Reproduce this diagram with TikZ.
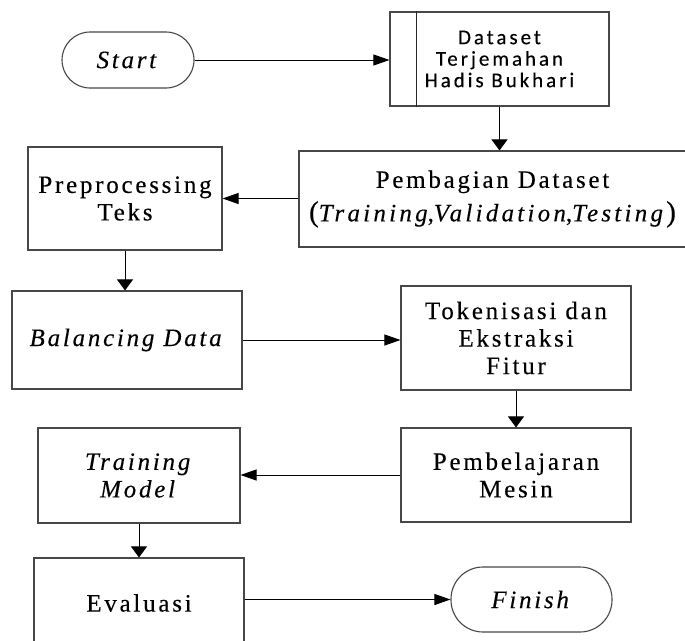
\documentclass[tikz,border=0pt]{standalone}
\usepackage{fontspec}
\setmainfont{Liberation Serif}[LetterSpace=11,FakeBold=0.25]
\newfontfamily\dsfont{Carlito}[LetterSpace=14,FakeBold=0.2]
\usetikzlibrary{arrows.meta}
\begin{document}
\begin{tikzpicture}[x=1pt,y=-1pt,
  box/.style={draw=black!72, line width=1.1pt, align=center, inner sep=0pt,
              font=\fontsize{25}{27.5}\selectfont},
  term/.style={box},
  conn/.style={draw=black, line width=0.9pt},
  harr/.style={conn, -{Triangle[length=16pt,width=11pt]}},
  varr/.style={conn, -{Triangle[length=11pt,width=16pt]}}]
\useasboundingbox (0,0) rectangle (685,640);
\clip (0,0) rectangle (685,640);

\node[term, rounded corners=28pt, minimum width=132pt, minimum height=56pt] (start) at (128,60) {\textit{Start}};
\node[box, minimum width=219pt, minimum height=94pt, font=\dsfont\fontsize{21}{21.5}\selectfont] (data) at (499.5,59) {Dataset\\Terjemahan\\Hadis Bukhari};
\draw[draw=black!85, line width=1pt] ([xshift=27pt]data.north west) -- ([xshift=27pt]data.south west);
\node[box, minimum width=387pt, minimum height=96pt] (pemb) at (492.5,199) {Pembagian Dataset\\[6pt]\addfontfeature{LetterSpace=13}{\fontsize{29}{29}\selectfont(}\textit{Training},\textit{Validation},\textit{Testing}{\fontsize{29}{29}\selectfont)}};
\node[box, minimum width=194pt, minimum height=103pt] (pre) at (125,198.5) {Preprocessing\\Teks};
\node[box, minimum width=230pt, minimum height=98pt] (bal) at (127,340) {\textit{Balancing Data}};
\node[box, minimum width=230pt, minimum height=104pt] (tok) at (516,338) {Tokenisasi dan\\Ekstraksi\\Fitur};
\node[box, minimum width=230pt, minimum height=94pt] (pemj) at (516,475) {Pembelajaran\\Mesin};
\node[box, minimum width=202pt, minimum height=95pt] (train) at (139,475.5) {\textit{Training}\\\textit{Model}};
\node[box, minimum width=210pt, minimum height=90pt] (eval) at (139,603) {Evaluasi};
\node[term, rounded corners=32pt, minimum width=161pt, minimum height=65pt] (finish) at (531.5,599.5) {\textit{Finish}};

\draw[harr] (start.east) -- (start.east -| data.west);
\draw[varr] (data.south) -- (data.south |- pemb.north);
\draw[harr] (pemb.west |- pre.east) -- (pre.east);
\draw[varr] (pre.south) -- (pre.south |- bal.north);
\draw[harr] (bal.east) -- (bal.east -| tok.west);
\draw[varr] (tok.south) -- (pemj.north);
\draw[harr] (pemj.west) -- (pemj.west -| train.east);
\draw[varr] (train.south) -- (train.south |- eval.north);
\draw[harr] (finish.west -| eval.east) -- (finish.west);
\end{tikzpicture}
\end{document}
